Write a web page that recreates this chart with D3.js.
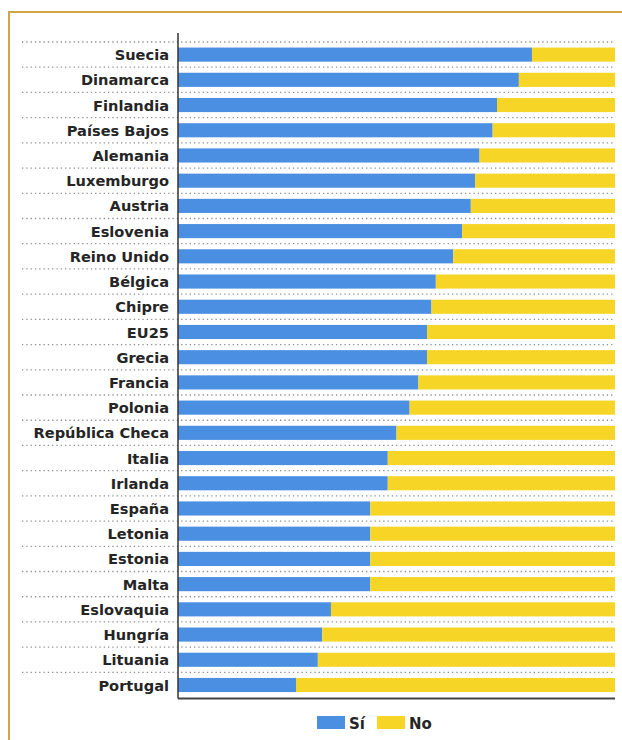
<!DOCTYPE html>
<html>
<head>
<meta charset="utf-8">
<script src="https://cdn.jsdelivr.net/npm/d3@7"></script>
<style>
  body { margin: 0; background: #fff; }
  svg text { font-family: "DejaVu Sans", sans-serif; font-weight: 700; fill: #252525; }
</style>
</head>
<body>
<div id="chart"></div>
<script>
// ---- data (share answering "Sí", %)
const countries = ["Suecia", "Dinamarca", "Finlandia", "Países Bajos", "Alemania", "Luxemburgo",
    "Austria", "Eslovenia", "Reino Unido", "Bélgica", "Chipre", "EU25", "Grecia", "Francia",
    "Polonia", "República Checa", "Italia", "Irlanda", "España", "Letonia", "Estonia", "Malta",
    "Eslovaquia", "Hungría", "Lituania", "Portugal"];
const si = [81, 78, 73, 72, 69, 68, 67, 65, 63, 59, 58, 57, 57, 55, 53, 50, 48, 48, 44, 44, 44, 44, 35, 33, 32, 27];
const no = si.map((v) => 100 - v);
const seriesNames = ["Sí", "No"];

const W = 622;
const H = 740;

//  ----   layout   ------
const pLeft = 178;
const pRight = 7;
const pTop = 42;
const plotBottom = 697.6;

const colors = ["#4a8fe2", "#f6d526"];

const svg = d3.select("#chart").append("svg")
    .attr("width", W)
    .attr("height", H);

// frame
svg.append("rect")
    .attr("x", 9)
    .attr("y", 12)
    .attr("width", W + 20)
    .attr("height", H + 20)
    .attr("fill", "#fff")
    .attr("stroke", "#cfa548")
    .attr("stroke-width", 2);

// SCALES
const xScale = d3.scaleLinear()
    .domain([0, 100])
    .range([pLeft, W - pRight]);

const yScale = d3.scaleBand()
    .domain(countries)
    .range([pTop, plotBottom])
    .paddingInner(0.44)
    .paddingOuter(0.22);

const step = yScale.step();
const rowTop = (d) => yScale(d) - step * yScale.paddingOuter();

// dotted separators
svg.append("g")
    .selectAll("line")
    .data(countries)
    .enter()
    .append("line")
    .attr("x1", 22)
    .attr("x2", W - pRight)
    .attr("y1", (d) => rowTop(d))
    .attr("y2", (d) => rowTop(d))
    .attr("stroke", "#8a8f96")
    .attr("stroke-width", 1.3)
    .attr("stroke-dasharray", "1.3,3");

// stacked bars
const rows = countries.map((c, i) => ({ name: c, si: si[i], no: no[i] }));
const stack = d3.stack().keys(["si", "no"])(rows);

svg.append("g")
    .selectAll("g")
    .data(stack)
    .enter()
    .append("g")
    .attr("fill", (d, i) => colors[i])
    .selectAll("rect")
    .data((d) => d)
    .enter()
    .append("rect")
    .attr("x", (d) => xScale(d[0]))
    .attr("y", (d) => yScale(d.data.name))
    .attr("width", (d) => xScale(d[1]) - xScale(d[0]))
    .attr("height", yScale.bandwidth());

// Y AXIS labels
const yAxis = d3.axisLeft(yScale).tickSize(0).tickPadding(9);
const gy = svg.append("g")
    .attr("transform", `translate(${pLeft}, 0)`)
    .call(yAxis);
gy.select(".domain").remove();
gy.selectAll("text")
    .style("font-family", null)
    .style("font-size", "14.6px")
    .attr("dy", "0.38em");

// axis lines
svg.append("line")
    .attr("x1", pLeft).attr("x2", pLeft)
    .attr("y1", 33).attr("y2", 698.5)
    .attr("stroke", "#333")
    .attr("stroke-width", 1.5);
svg.append("line")
    .attr("x1", pLeft).attr("x2", W - pRight)
    .attr("y1", 698.5).attr("y2", 698.5)
    .attr("stroke", "#444")
    .attr("stroke-width", 1.8);

// LEGEND
const legendX = [317, 377];
const legend = svg.append("g")
    .selectAll("g")
    .data(seriesNames)
    .enter()
    .append("g")
    .attr("transform", (d, i) => `translate(${legendX[i]}, 716)`);
legend.append("rect")
    .attr("width", 28)
    .attr("height", 13)
    .attr("fill", (d, i) => colors[i]);
legend.append("text")
    .attr("x", 32)
    .attr("y", 12.5)
    .style("font-size", "15px")
    .text((d) => d);
</script>
</body>
</html>
